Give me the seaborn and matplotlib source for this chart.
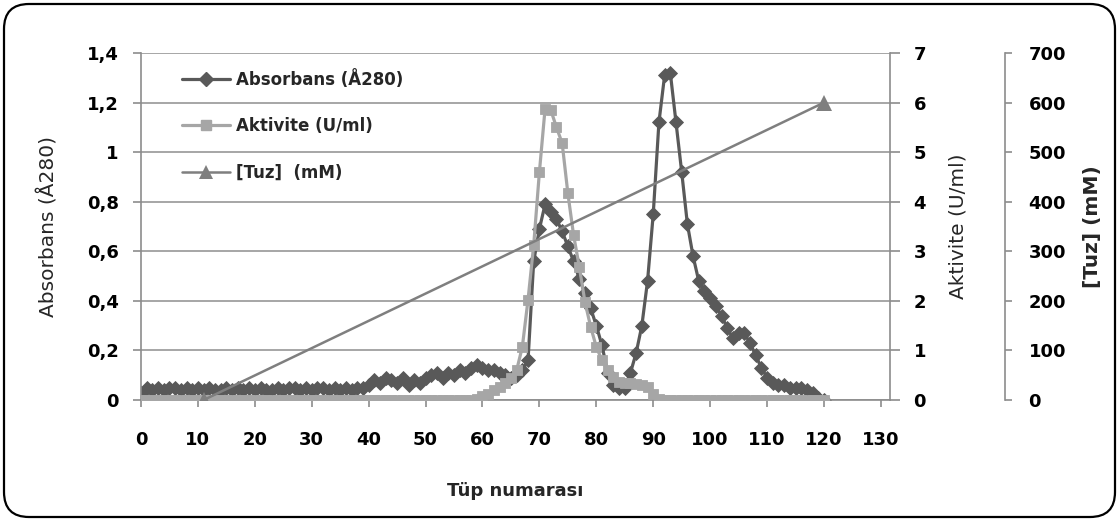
import numpy as np
import pandas as pd
import matplotlib
matplotlib.use("Agg")
import matplotlib.pyplot as plt
import seaborn as sns
from matplotlib.patches import FancyBboxPatch
from matplotlib.lines import Line2D

# Fraction (tube) numbers
tubes = list(range(0, 121))

# Absorbance at 280 nm for each tube
absorbans = [
    0.03, 0.05, 0.04, 0.05, 0.04, 0.05, 0.05, 0.04, 0.05, 0.04,
    0.05, 0.04, 0.05, 0.04, 0.04, 0.05, 0.04, 0.05, 0.04, 0.05,
    0.04, 0.05, 0.04, 0.04, 0.05, 0.04, 0.05, 0.05, 0.04, 0.05,
    0.04, 0.05, 0.05, 0.04, 0.05, 0.04, 0.05, 0.04, 0.05, 0.05,
    0.06, 0.08, 0.07, 0.09, 0.08, 0.07, 0.09, 0.06, 0.08, 0.07,
    0.09, 0.10, 0.11, 0.09, 0.11, 0.10, 0.12, 0.11, 0.13, 0.14,
    0.13, 0.12, 0.12, 0.11, 0.10, 0.09, 0.10, 0.12, 0.16, 0.56,
    0.69, 0.79, 0.76, 0.73, 0.68, 0.62, 0.56, 0.49, 0.43, 0.37,
    0.30, 0.22, 0.11, 0.06, 0.05, 0.05, 0.11, 0.19, 0.30, 0.48,
    0.75, 1.12, 1.31, 1.32, 1.12, 0.92, 0.71, 0.58, 0.48, 0.44,
    0.41, 0.38, 0.34, 0.29, 0.25, 0.27, 0.27, 0.23, 0.18, 0.13,
    0.09, 0.07, 0.06, 0.06, 0.05, 0.05, 0.05, 0.04, 0.03, 0.01,
    0.00,
]

# Enzyme activity (U/ml) for each tube
aktivite = [0.0] * 59 + [
    0.02, 0.08, 0.13, 0.20, 0.27, 0.34, 0.45, 0.60, 1.07, 2.02,
    3.13, 4.60, 5.88, 5.85, 5.50, 5.18, 4.17, 3.33, 2.69, 1.98,
    1.48, 1.07, 0.80, 0.60, 0.47, 0.37, 0.35, 0.34, 0.32, 0.30,
    0.27, 0.12, 0.02,
] + [0.0] * 29

# Salt gradient end points
tuz_tubes = [11, 120]
tuz_mM = [0, 600]

x_ticks = list(range(0, 131, 10))
abs_ticks = [0, 0.2, 0.4, 0.6, 0.8, 1.0, 1.2, 1.4]
abs_ticklabels = ["0", "0,2", "0,4", "0,6", "0,8", "1", "1,2", "1,4"]
akt_ticks = list(range(0, 8))
tuz_ticks = list(range(0, 701, 100))

sns.set_theme(style="white")
plt.rcParams["font.family"] = ["DejaVu Sans"]

DARK = "#595959"
LIGHT = "#a6a6a6"
MID = "#7f7f7f"
AXIS = "#8c8c8c"
GRID = "#a6a6a6"

W, H, DPI = 1119, 521, 100
fig = plt.figure(figsize=(W / DPI, H / DPI), dpi=DPI)
fig.patch.set_facecolor("white")

left, right, bottom, top = 141 / W, 890 / W, 1 - 400 / H, 1 - 53 / H
ax = fig.add_axes([left, bottom, right - left, top - bottom])
ax2 = ax.twinx()
ax3 = ax.twinx()

df = pd.DataFrame({"tup": tubes, "absorbans": absorbans, "aktivite": aktivite})
tuz_df = pd.DataFrame({"tup": tuz_tubes, "tuz": tuz_mM})

sns.lineplot(data=df, x="tup", y="absorbans", ax=ax, color=DARK, linewidth=2.3,
             marker="D", markersize=7, markeredgewidth=0.6,
             markeredgecolor=DARK, markerfacecolor=DARK, legend=False)
sns.lineplot(data=df, x="tup", y="aktivite", ax=ax2, color=LIGHT, linewidth=2.3,
             marker="s", markersize=7, markeredgewidth=0.6,
             markeredgecolor=LIGHT, markerfacecolor=LIGHT, legend=False)
sns.lineplot(data=tuz_df, x="tup", y="tuz", ax=ax3, color=MID, linewidth=1.8,
             marker="^", markersize=12, markeredgewidth=0,
             markerfacecolor=MID, legend=False)

xmax = 131.6
for a in (ax, ax2, ax3):
    a.set_xlim(0, xmax)
    a.patch.set_alpha(0)
    for s in a.spines.values():
        s.set_visible(False)

ax.set_ylim(0, 1.4)
ax2.set_ylim(0, 7)
ax3.set_ylim(0, 700)

# Primary axis
ax.set_yticks(abs_ticks)
ax.set_yticklabels(abs_ticklabels)
ax.set_xticks(x_ticks)
ax.set_xticklabels([str(t) for t in x_ticks])
ax.yaxis.grid(True, color=GRID, linewidth=1.4)
ax.xaxis.grid(False)
ax.set_axisbelow(True)
ax.spines["left"].set_visible(True)
ax.spines["bottom"].set_visible(True)
for s in ("left", "bottom"):
    ax.spines[s].set_color(AXIS)
    ax.spines[s].set_linewidth(1.2)
ax.tick_params(axis="y", which="both", left=True, length=6, width=1.2, color=AXIS,
               pad=10, labelsize=13, labelcolor="black")
ax.tick_params(axis="x", which="both", bottom=True, length=5, width=1.2, color=AXIS,
               pad=17, labelsize=13, labelcolor="black")
for lab in ax.get_xticklabels() + ax.get_yticklabels():
    lab.set_fontweight("bold")
ax.set_xlabel("Tüp numarası", fontsize=13, fontweight="bold", labelpad=24)
ax.set_ylabel("Absorbans (Å280)", fontsize=14.5, labelpad=20)

# Activity axis
ax2.spines["right"].set_visible(True)
ax2.spines["right"].set_color(AXIS)
ax2.spines["right"].set_linewidth(1.2)
ax2.set_yticks(akt_ticks)
ax2.set_yticklabels([str(t) for t in akt_ticks])
ax2.tick_params(axis="y", right=True, length=7, width=1.2, color=AXIS, pad=10,
                labelsize=13, labelcolor="black")
for lab in ax2.get_yticklabels():
    lab.set_fontweight("bold")
ax2.set_ylabel("Aktivite (U/ml)", fontsize=14.5, labelpad=16)
ax2.grid(False)

# Salt axis, offset to the right
ax3.spines["right"].set_visible(True)
ax3.spines["right"].set_position(("axes", (1005 - 141) / (890 - 141)))
ax3.spines["right"].set_color(AXIS)
ax3.spines["right"].set_linewidth(1.2)
ax3.set_yticks(tuz_ticks)
ax3.set_yticklabels([str(t) for t in tuz_ticks])
ax3.tick_params(axis="y", right=True, length=5, width=1.2, color=AXIS, pad=12,
                labelsize=13, labelcolor="black")
for lab in ax3.get_yticklabels():
    lab.set_fontweight("bold")
ax3.set_ylabel("[Tuz] (mM)", fontsize=14.5, fontweight="bold", labelpad=12)
ax3.grid(False)
ax3.set_xlabel("")
ax2.set_xlabel("")

# Legend
handles = [
    Line2D([], [], color=DARK, linewidth=2.3, marker="D", markersize=7,
           markerfacecolor=DARK, markeredgecolor=DARK),
    Line2D([], [], color=LIGHT, linewidth=2.3, marker="s", markersize=7,
           markerfacecolor=LIGHT, markeredgecolor=LIGHT),
    Line2D([], [], color=MID, linewidth=1.8, marker="^", markersize=10,
           markerfacecolor=MID, markeredgewidth=0),
]
labels = ["Absorbans (Å280)", "Aktivite (U/ml)", "[Tuz]  (mM)"]
fig.legend(handles, labels, loc="upper left",
           bbox_to_anchor=(182 / W, 1 - 70 / H), frameon=False,
           prop={"size": 12, "weight": "bold"}, handlelength=2.9,
           handletextpad=0.35, labelspacing=1.7, borderpad=0, borderaxespad=0)

# Rounded chart-area border
frame = FancyBboxPatch((0.04, 0.04), W / DPI - 0.08, H / DPI - 0.08,
                       boxstyle="round,pad=0,rounding_size=0.25",
                       transform=fig.dpi_scale_trans, facecolor="none",
                       edgecolor="black", linewidth=1.6, zorder=10)
fig.patches.append(frame)

fig.savefig("out.png", dpi=DPI, facecolor="white")
